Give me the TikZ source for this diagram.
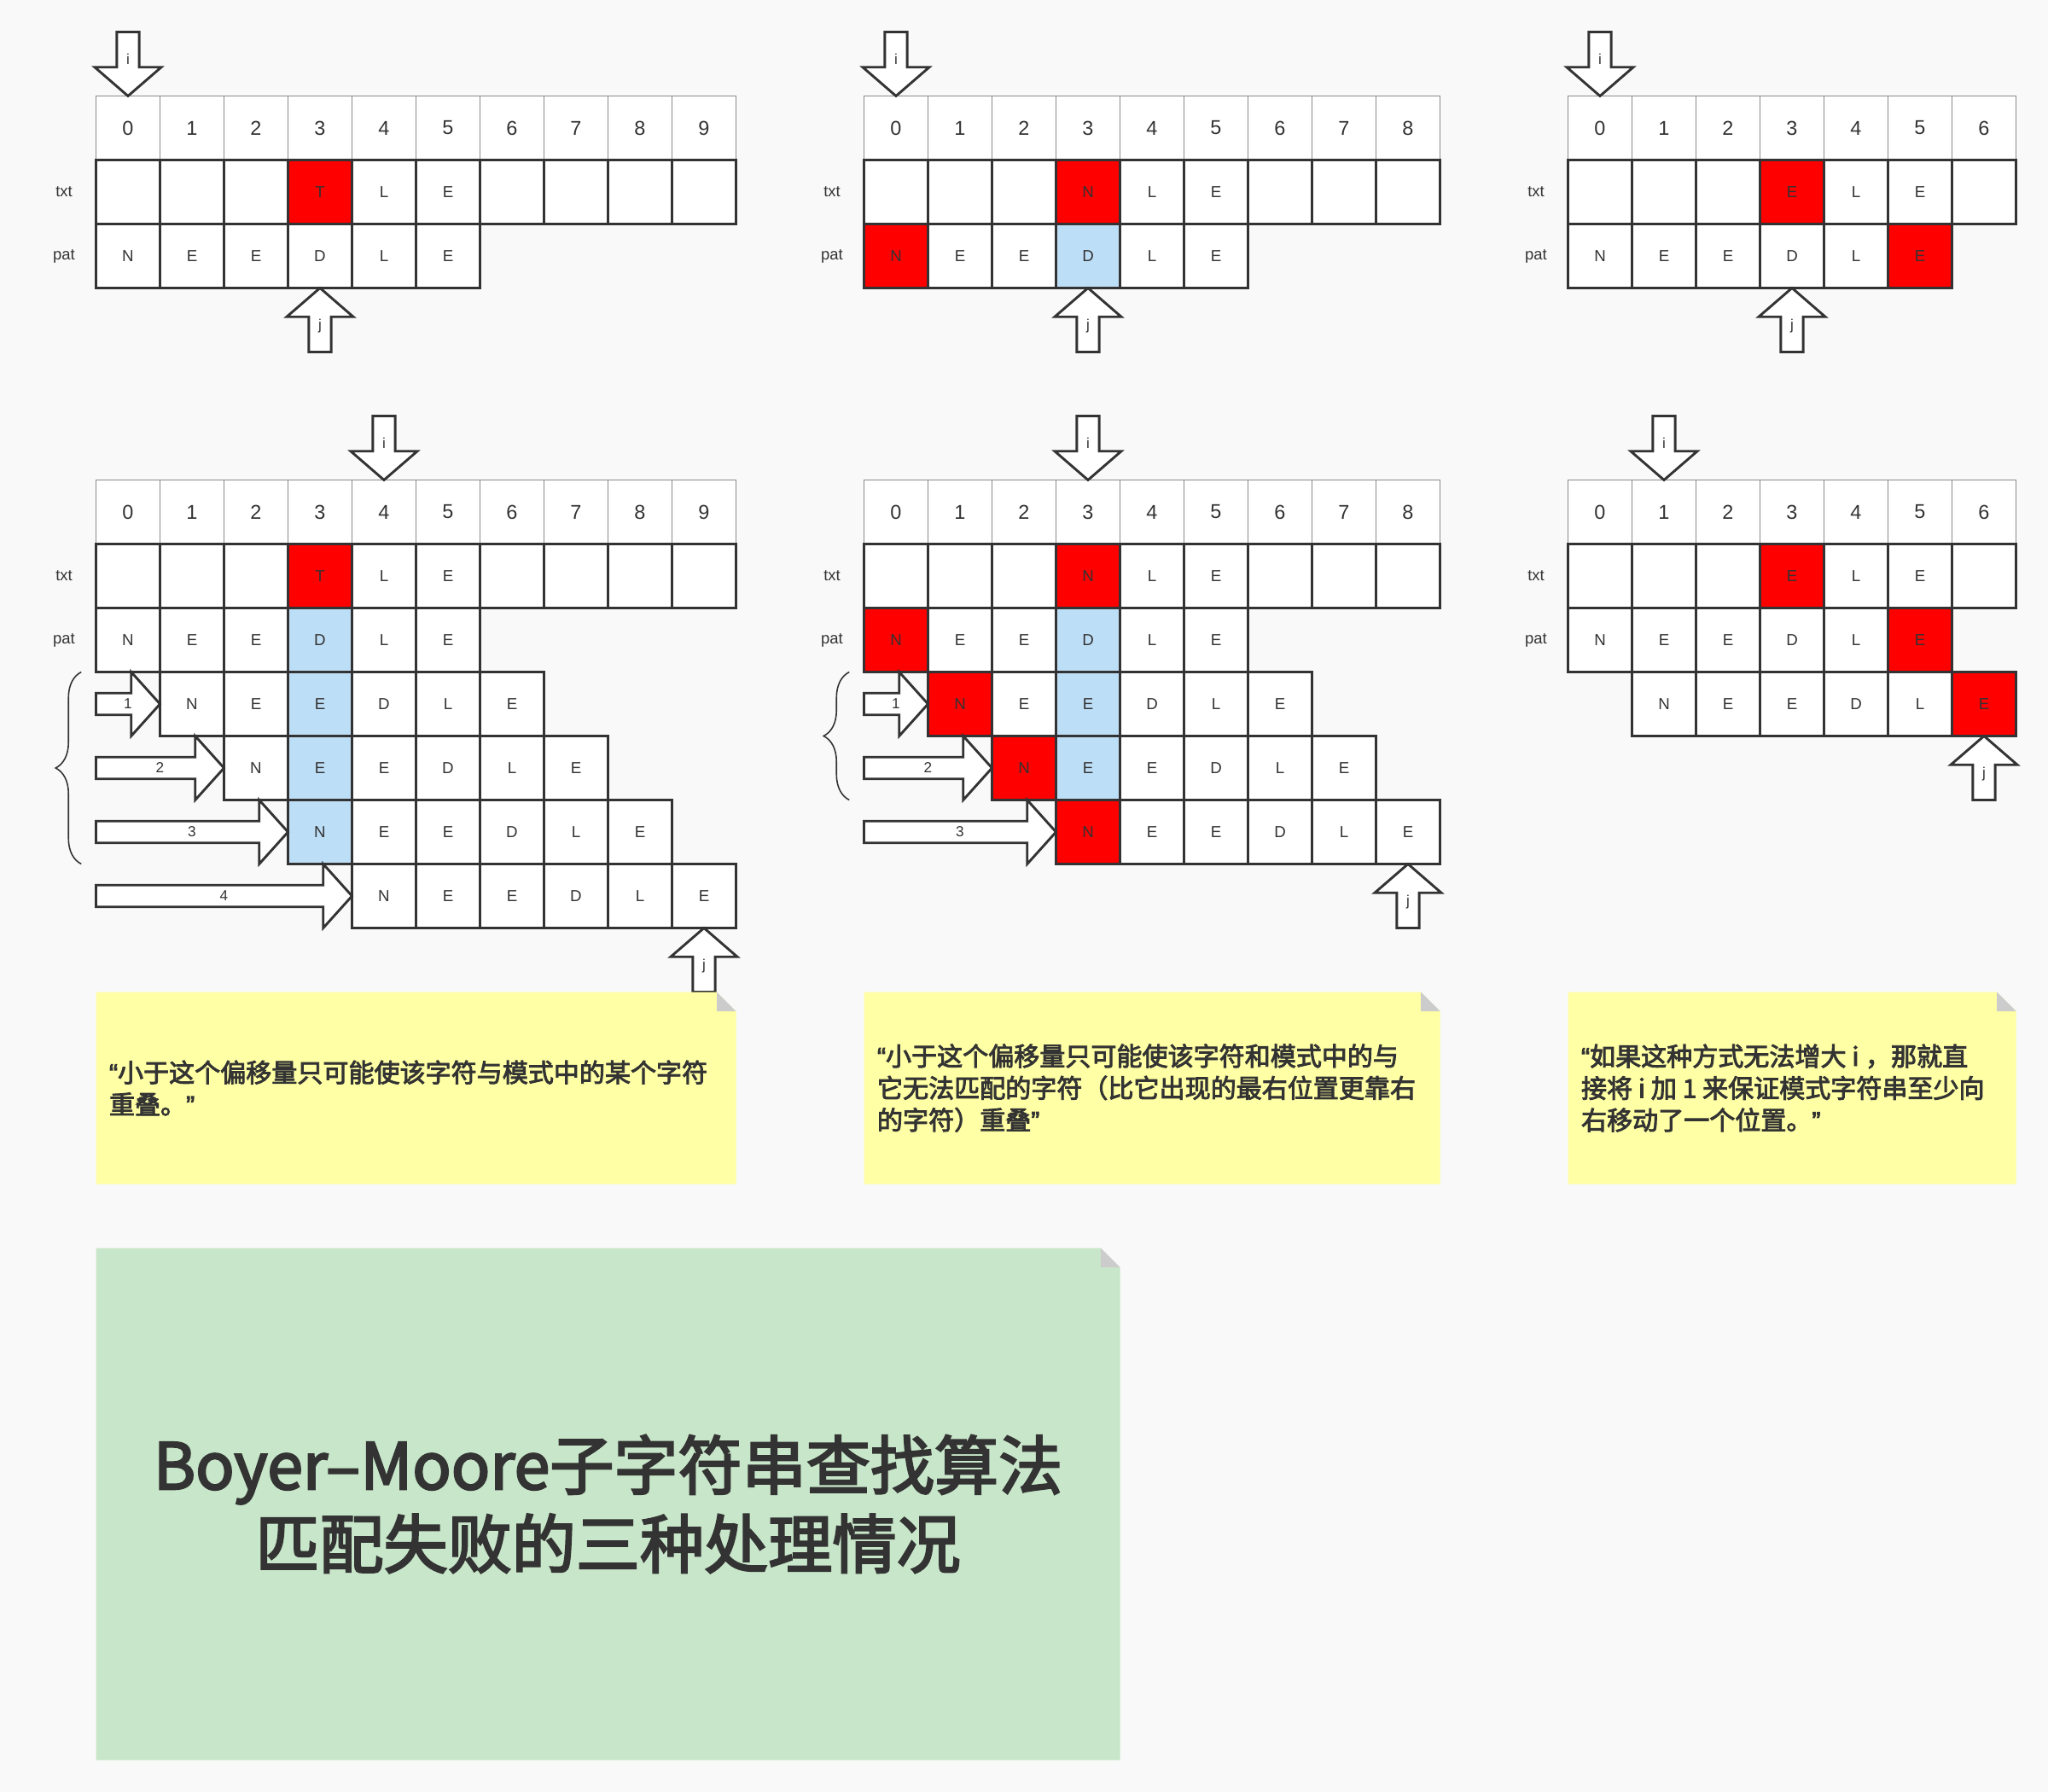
\documentclass[tikz,border=0pt]{standalone}
\usepackage{fontspec}
\setmainfont{Liberation Sans}
\newfontfamily\cjk{Noto Sans CJK SC}[FakeBold=3]
\newfontfamily\qfont{Liberation Sans}[FakeBold=3]
\usetikzlibrary{decorations.pathreplacing}

\definecolor{bgc}{HTML}{F9F9F9}
\definecolor{dk}{HTML}{333333}
\definecolor{idxline}{HTML}{8C8C8C}
\definecolor{cw}{HTML}{FFFFFF}
\definecolor{cr}{HTML}{FF0000}
\definecolor{cb}{HTML}{BDDEF7}
\definecolor{notey}{HTML}{FFFFA5}
\definecolor{noteg}{HTML}{C8E6C9}
\definecolor{fold}{HTML}{CCCCCC}

\newcommand{\openq}{{\qfont “}}
\newcommand{\closeq}{{\qfont ”}}

\tikzset{
  idxcell/.style={draw=idxline, line width=0.6pt, fill=white, minimum size=1cm, inner sep=0pt,
    font=\fontsize{8.9}{10}\selectfont, text=dk},
  cell/.style={draw=dk, line width=1.1pt, minimum size=1cm, inner sep=0pt,
    font=\fontsize{7.1}{8}\selectfont, text=dk},
  rowlabel/.style={font=\fontsize{7}{8}\selectfont, text=dk, inner sep=0pt},
  ptr/.style={draw=dk, fill=white, line width=1.1pt},
  ptrlabel/.style={font=\fontsize{6.5}{7}\selectfont, text=dk, inner sep=0pt},
  notetext/.style={font=\cjk\fontsize{11.4}{14.2}\selectfont, text=dk, align=left,
    anchor=west, inner sep=0pt},
  shiftbrace/.style={draw=dk, line width=0.6pt, decorate, decoration={brace, amplitude=0.4cm}}
}

% index row: name, x0, y0, last index
\newcommand{\idxrow}[4]{%
  \foreach \k in {0,...,#4}
    \node[idxcell] (#1-\k) at (#2+\k+0.5,#3+0.5) {\k};}
% data row: name, x0, y0, letter/colour list
\newcommand{\cellrow}[4]{%
  \foreach \c/\f [count=\k from 0] in {#4}
    \node[cell, fill=\f] (#1-\k) at (#2+\k+0.5,#3+0.5) {\c};}
% i pointer (down), tip at (x,y)
\newcommand{\ptrdown}[3]{%
  \draw[ptr] (#2-0.175,#3-1) -- (#2-0.175,#3-0.45) -- (#2-0.52,#3-0.45) -- (#2,#3)
    -- (#2+0.52,#3-0.45) -- (#2+0.175,#3-0.45) -- (#2+0.175,#3-1) -- cycle;
  \node[ptrlabel] (#1) at (#2,#3-0.58) {i};}
% j pointer (up), tip at (x,y)
\newcommand{\ptrup}[3]{%
  \draw[ptr] (#2-0.175,#3+1) -- (#2-0.175,#3+0.45) -- (#2-0.52,#3+0.45) -- (#2,#3)
    -- (#2+0.52,#3+0.45) -- (#2+0.175,#3+0.45) -- (#2+0.175,#3+1) -- cycle;
  \node[ptrlabel] (#1) at (#2,#3+0.6) {j};}
% shift arrow: name, x start, x tip, y, label
\newcommand{\shiftarrow}[5]{%
  \draw[ptr] (#2,#4-0.17) -- (#3-0.45,#4-0.17) -- (#3-0.45,#4-0.5) -- (#3,#4)
    -- (#3-0.45,#4+0.5) -- (#3-0.45,#4+0.17) -- (#2,#4+0.17) -- cycle;
  \node[ptrlabel] (#1) at ({(#2+#3)/2},#4) {#5};}
% note with folded corner: name, x1, y1, x2, y2, colour
\newcommand{\stickynote}[6]{%
  \fill[#6] (#2,#3) -- (#4-0.3,#3) -- (#4,#3+0.3) -- (#4,#5) -- (#2,#5) -- cycle;
  \fill[fold] (#4-0.3,#3) -- (#4-0.3,#3+0.3) -- (#4,#3+0.3) -- cycle;
  \coordinate (#1) at (#2,{(#3+#5)/2});}

\begin{document}
\begin{tikzpicture}[x=1cm,y=-1cm]
\useasboundingbox (0,0) rectangle (32,28);
\fill[bgc] (0,0) rectangle (32,28);

% case 1, before
\idxrow{ai}{1.5}{1.5}{9}
\cellrow{at}{1.5}{2.5}{/cw,/cw,/cw,T/cr,L/cw,E/cw,/cw,/cw,/cw,/cw}
\cellrow{ap}{1.5}{3.5}{N/cw,E/cw,E/cw,D/cw,L/cw,E/cw}
\node[rowlabel] (atl) at (1,3) {txt};
\node[rowlabel] (apl) at (1,4) {pat};
\ptrdown{api}{2}{1.5}
\ptrup{apj}{5}{4.5}

% case 2, before
\idxrow{bi}{13.5}{1.5}{8}
\cellrow{bt}{13.5}{2.5}{/cw,/cw,/cw,N/cr,L/cw,E/cw,/cw,/cw,/cw}
\cellrow{bp}{13.5}{3.5}{N/cr,E/cw,E/cw,D/cb,L/cw,E/cw}
\node[rowlabel] (btl) at (13,3) {txt};
\node[rowlabel] (bpl) at (13,4) {pat};
\ptrdown{bpi}{14}{1.5}
\ptrup{bpj}{17}{4.5}

% case 3, before
\idxrow{ci}{24.5}{1.5}{6}
\cellrow{ct}{24.5}{2.5}{/cw,/cw,/cw,E/cr,L/cw,E/cw,/cw}
\cellrow{cp}{24.5}{3.5}{N/cw,E/cw,E/cw,D/cw,L/cw,E/cr}
\node[rowlabel] (ctl) at (24,3) {txt};
\node[rowlabel] (cpl) at (24,4) {pat};
\ptrdown{cpi}{25}{1.5}
\ptrup{cpj}{28}{4.5}

% case 1, after
\idxrow{di}{1.5}{7.5}{9}
\cellrow{dt}{1.5}{8.5}{/cw,/cw,/cw,T/cr,L/cw,E/cw,/cw,/cw,/cw,/cw}
\cellrow{dp}{1.5}{9.5}{N/cw,E/cw,E/cw,D/cb,L/cw,E/cw}
\cellrow{ds1}{2.5}{10.5}{N/cw,E/cw,E/cb,D/cw,L/cw,E/cw}
\cellrow{ds2}{3.5}{11.5}{N/cw,E/cb,E/cw,D/cw,L/cw,E/cw}
\cellrow{ds3}{4.5}{12.5}{N/cb,E/cw,E/cw,D/cw,L/cw,E/cw}
\cellrow{ds4}{5.5}{13.5}{N/cw,E/cw,E/cw,D/cw,L/cw,E/cw}
\node[rowlabel] (dtl) at (1,9) {txt};
\node[rowlabel] (dpl) at (1,10) {pat};
\shiftarrow{da1}{1.5}{2.5}{11}{1}
\shiftarrow{da2}{1.5}{3.5}{12}{2}
\shiftarrow{da3}{1.5}{4.5}{13}{3}
\shiftarrow{da4}{1.5}{5.5}{14}{4}
\draw[shiftbrace] (1.27,13.5) -- (1.27,10.5);
\ptrdown{dpi}{6}{7.5}
\ptrup{dpj}{11}{14.5}

% case 2, after
\idxrow{ei}{13.5}{7.5}{8}
\cellrow{et}{13.5}{8.5}{/cw,/cw,/cw,N/cr,L/cw,E/cw,/cw,/cw,/cw}
\cellrow{ep}{13.5}{9.5}{N/cr,E/cw,E/cw,D/cb,L/cw,E/cw}
\cellrow{es1}{14.5}{10.5}{N/cr,E/cw,E/cb,D/cw,L/cw,E/cw}
\cellrow{es2}{15.5}{11.5}{N/cr,E/cb,E/cw,D/cw,L/cw,E/cw}
\cellrow{es3}{16.5}{12.5}{N/cr,E/cw,E/cw,D/cw,L/cw,E/cw}
\node[rowlabel] (etl) at (13,9) {txt};
\node[rowlabel] (epl) at (13,10) {pat};
\shiftarrow{ea1}{13.5}{14.5}{11}{1}
\shiftarrow{ea2}{13.5}{15.5}{12}{2}
\shiftarrow{ea3}{13.5}{16.5}{13}{3}
\draw[shiftbrace] (13.27,12.5) -- (13.27,10.5);
\ptrdown{epi}{17}{7.5}
\ptrup{epj}{22}{13.5}

% case 3, after
\idxrow{fi}{24.5}{7.5}{6}
\cellrow{ft}{24.5}{8.5}{/cw,/cw,/cw,E/cr,L/cw,E/cw,/cw}
\cellrow{fp}{24.5}{9.5}{N/cw,E/cw,E/cw,D/cw,L/cw,E/cr}
\cellrow{fs1}{25.5}{10.5}{N/cw,E/cw,E/cw,D/cw,L/cw,E/cr}
\node[rowlabel] (ftl) at (24,9) {txt};
\node[rowlabel] (fpl) at (24,10) {pat};
\ptrdown{fpi}{26}{7.5}
\ptrup{fpj}{31}{11.5}

% notes
\stickynote{noteA}{1.5}{15.5}{11.5}{18.5}{notey}
\node[notetext] (noteAtext) at ([xshift=0.2cm]noteA)
  {\openq 小于这个偏移量只可能使该字符与模式中的某个字符\\重叠。\closeq};
\stickynote{noteB}{13.5}{15.5}{22.5}{18.5}{notey}
\node[notetext] (noteBtext) at ([xshift=0.2cm]noteB)
  {\openq 小于这个偏移量只可能使该字符和模式中的与\\它无法匹配的字符（比它出现的最右位置更靠右\\的字符）重叠\closeq};
\stickynote{noteC}{24.5}{15.5}{31.5}{18.5}{notey}
\node[notetext] (noteCtext) at ([xshift=0.2cm]noteC)
  {\openq 如果这种方式无法增大 i\hspace{0.25em}，那就直\\接将 i 加 1 来保证模式字符串至少向\\右移动了一个位置。\closeq};

% title
\stickynote{titlebox}{1.5}{19.5}{17.5}{27.5}{noteg}
\node[font=\cjk\fontsize{28.5}{35}\selectfont, text=dk, align=center] (title) at (9.5,23.5)
  {Boyer–Moore子字符串查找算法\\匹配失败的三种处理情况};
\end{tikzpicture}
\end{document}
